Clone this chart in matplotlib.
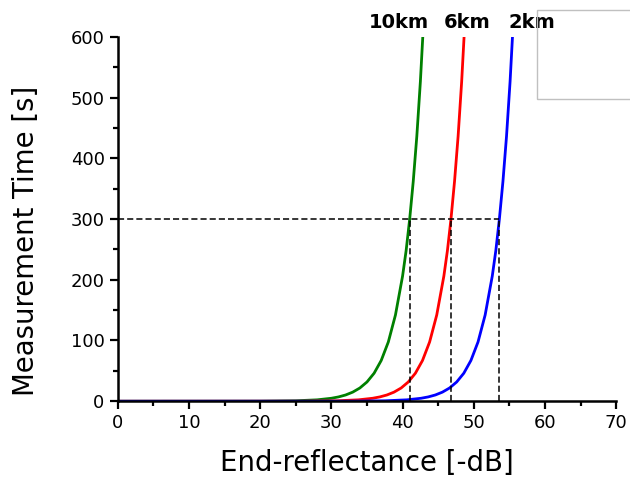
import matplotlib.pyplot as plt
from matplotlib.patches import Rectangle
from matplotlib.ticker import MultipleLocator

# Valeurs (réflectance en -dB, temps en s)
x_10km = [0, 20, 25, 28, 30, 31, 32, 33, 34, 35, 36, 37, 38, 39, 40, 40.5, 41, 41.5, 42, 42.5, 43]
t_10km = [0, 0.1, 0.75, 2.3, 4.9, 7.1, 10.3, 15.0, 21.8, 31.7, 46.1, 67.1, 97.6, 142, 206, 248, 300, 362, 436, 526, 635]

x_6km = [0, 25.8, 30.8, 33.8, 35.8, 36.8, 37.8, 38.8, 39.8, 40.8, 41.8, 42.8, 43.8, 44.8, 45.8, 46.3, 46.8, 47.3, 47.8, 48.3, 48.8]
t_6km = [0, 0.1, 0.75, 2.3, 4.9, 7.1, 10.3, 15.0, 21.8, 31.7, 46.1, 67.1, 97.6, 142, 206, 248, 300, 362, 436, 526, 635]

x_2km = [0, 32.6, 37.6, 40.6, 42.6, 43.6, 44.6, 45.6, 46.6, 47.6, 48.6, 49.6, 50.6, 51.6, 52.6, 53.1, 53.6, 54.1, 54.6, 55.1, 55.6]
t_2km = [0, 0.1, 0.75, 2.3, 4.9, 7.1, 10.3, 15.0, 21.8, 31.7, 46.1, 67.1, 97.6, 142, 206, 248, 300, 362, 436, 526, 635]

# points de lecture à 300 s
t_ref = 300
x_cross = [41.0, 46.8, 53.6]

labels = ["10km", "6km", "2km"]
label_x = [39.5, 49.1, 58.1]

fig = plt.figure(figsize=(6.3, 4.84), dpi=100)
ax = fig.add_axes([0.187, 0.171, 0.791, 0.753])

ax.plot(x_10km, t_10km, color="#008000", lw=2)
ax.plot(x_6km, t_6km, color="red", lw=2)
ax.plot(x_2km, t_2km, color="blue", lw=2)

# lignes pointillées
ax.plot([0, max(x_cross)], [t_ref, t_ref], color="black", ls=(0, (4, 2)), lw=1.1)
for xc in x_cross:
    ax.plot([xc, xc], [0, t_ref], color="black", ls=(0, (4, 2)), lw=1.1)

for lab, lx in zip(labels, label_x):
    ax.text(lx, 624, lab, ha="center", va="center", fontsize=14,
            fontweight="bold", clip_on=False)

ax.set_xlim(0, 70)
ax.set_ylim(0, 600)
ax.xaxis.set_major_locator(MultipleLocator(10))
ax.xaxis.set_minor_locator(MultipleLocator(5))
ax.yaxis.set_major_locator(MultipleLocator(100))
ax.yaxis.set_minor_locator(MultipleLocator(50))

for side in ["top", "right"]:
    ax.spines[side].set_visible(False)
for side in ["left", "bottom"]:
    ax.spines[side].set_linewidth(1.8)
ax.tick_params(which="major", length=6, width=1.6, labelsize=13, direction="out")
ax.tick_params(which="minor", length=3.5, width=1.6, direction="out")

ax.set_xlabel("End-reflectance [-dB]", fontsize=19.8, labelpad=12)
ax.set_ylabel("Measurement Time [s]", fontsize=19.8)
ax.yaxis.set_label_coords(-0.157, 0.44)

# cadre de légende vide en haut à droite
fig.patches.append(Rectangle((0.852, 0.795), 0.2, 0.184, transform=fig.transFigure,
                             fill=False, edgecolor="#c0c0c0", lw=1))

fig.savefig("out.png", dpi=100)
